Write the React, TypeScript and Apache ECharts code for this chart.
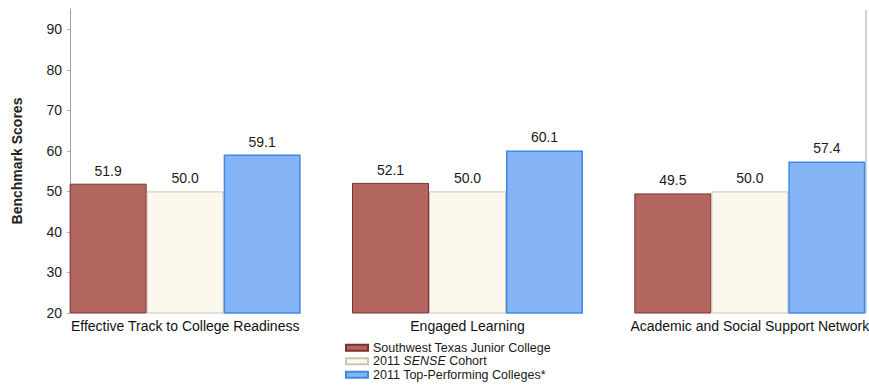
import React, { useEffect, useRef } from "react";
import * as echarts from "echarts";

const categories = [
  "Effective Track to College Readiness",
  "Engaged Learning",
  "Academic and Social Support Network",
];
const seriesNames = [
  "Southwest Texas Junior College",
  "2011 SENSE Cohort",
  "2011 Top-Performing Colleges*",
];
const collegeScores = [51.9, 52.1, 49.5];
const cohortScores = [50.0, 50.0, 50.0];
const topPerformingScores = [59.1, 60.1, 57.4];

const FONT = "Liberation Sans, Arial, sans-serif";

export default function App() {
  const ref = useRef<HTMLDivElement>(null);

  useEffect(() => {
    if (!ref.current) return;
    const chart = echarts.init(ref.current, undefined, { renderer: "svg" });

    const label = {
      show: true,
      position: "top" as const,
      distance: 6,
      color: "#1a1a1a",
      fontSize: 14,
      fontFamily: FONT,
      formatter: (p: any) => Number(p.value).toFixed(1),
    };

    chart.setOption({
      animation: false,
      backgroundColor: "#ffffff",
      textStyle: { fontFamily: FONT },
      grid: {
        left: 44,
        top: 9,
        width: 847,
        bottom: 72,
        outerBoundsMode: "none",
        containLabel: false,
      },
      legend: {
        orient: "vertical",
        left: 345,
        top: 341,
        itemWidth: 22,
        itemHeight: 6,
        itemGap: 0,
        padding: 0,
        icon: "rect",
        data: seriesNames,
        formatter: (name: string) =>
          name === "2011 SENSE Cohort" ? "2011 {i|SENSE} Cohort" : name,
        textStyle: {
          fontSize: 12.5,
          color: "#1a1a1a",
          fontFamily: FONT,
          lineHeight: 13.5,
          padding: [0, 0, 0, 0],
          rich: {
            i: {
              fontStyle: "italic",
              fontSize: 12.5,
              color: "#1a1a1a",
              fontFamily: FONT,
            },
          },
        },
      },
      xAxis: {
        type: "category",
        data: categories,
        axisLine: { show: false },
        axisTick: { show: false },
        axisLabel: {
          margin: 6,
          color: "#111111",
          fontSize: 14,
          fontFamily: FONT,
          interval: 0,
        },
      },
      yAxis: {
        type: "value",
        min: 20,
        max: 95,
        interval: 10,
        offset: -26,
        name: "Benchmark Scores",
        nameLocation: "middle",
        nameRotate: 90,
        nameGap: 46,
        nameTextStyle: {
          fontSize: 14,
          fontWeight: "bold",
          color: "#222222",
          fontFamily: FONT,
        },
        axisLine: { show: true, lineStyle: { color: "#a0a0a0", width: 1 } },
        axisTick: { show: true, length: 3, lineStyle: { color: "#b0b0b0" } },
        splitLine: { show: false },
        axisLabel: {
          showMaxLabel: false,
          margin: 8,
          color: "#222222",
          fontSize: 14,
          fontFamily: FONT,
        },
      },
      series: [
        {
          name: seriesNames[0],
          type: "bar",
          data: collegeScores,
          barWidth: 77,
          barGap: "0%",
          itemStyle: { color: "#b3665f", borderColor: "#7a302c", borderWidth: 1 },
          label,
        },
        {
          name: seriesNames[1],
          type: "bar",
          data: cohortScores,
          barWidth: 77,
          barGap: "0%",
          itemStyle: { color: "#fdf8ee", borderColor: "#c8c4b8", borderWidth: 1 },
          label,
        },
        {
          name: seriesNames[2],
          type: "bar",
          data: topPerformingScores,
          barWidth: 77,
          barGap: "0%",
          itemStyle: { color: "#84b4f6", borderColor: "#3f8ae6", borderWidth: 1.5 },
          label,
        },
      ],
      graphic: [
        {
          type: "line",
          shape: { x1: 866, y1: 10, x2: 866, y2: 313 },
          style: { stroke: "#d4d4d4", lineWidth: 2 },
          silent: true,
        },
      ],
    });

    return () => chart.dispose();
  }, []);

  return <div ref={ref} style={{ width: 869, height: 385, position: "fixed", left: 0, top: 0 }} />;
}
